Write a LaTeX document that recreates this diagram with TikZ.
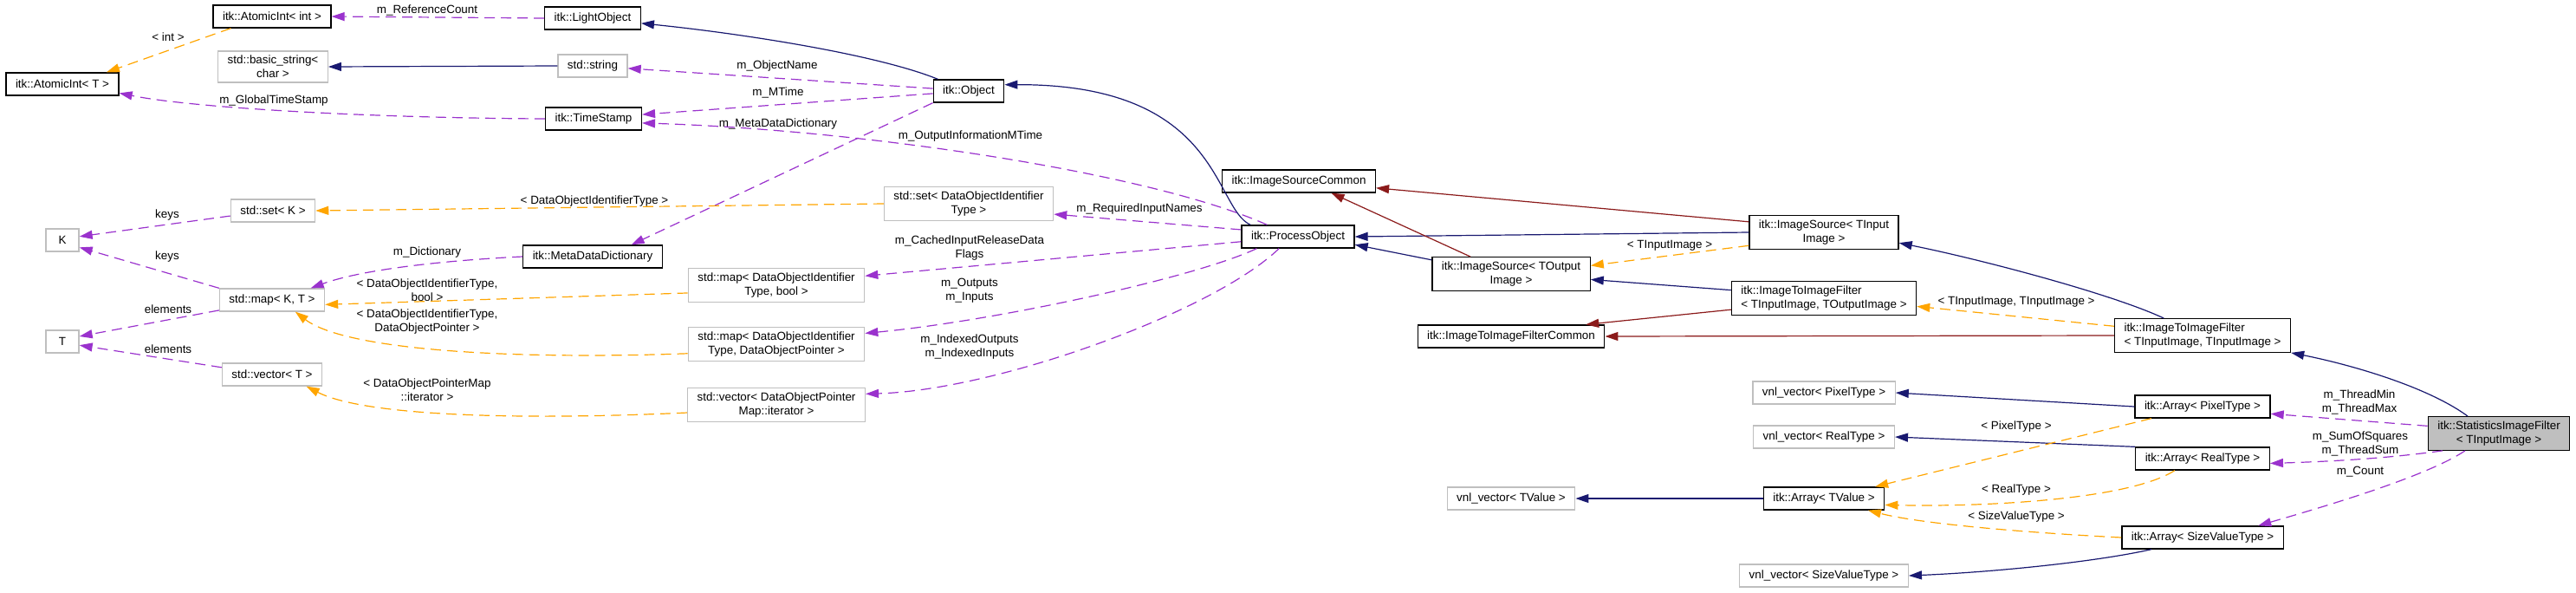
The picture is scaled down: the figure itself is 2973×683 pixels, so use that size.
\documentclass[tikz,border=0pt]{standalone}
\usepackage{fontspec}
\setmainfont{Liberation Sans}
\usetikzlibrary{arrows.meta}
\definecolor{inhblue}{HTML}{191970}
\definecolor{privred}{HTML}{8B1A1A}
\definecolor{usepurple}{HTML}{9A32CD}
\definecolor{tmplorange}{HTML}{FFA500}
\definecolor{nodegray}{HTML}{BFBFBF}
\begin{document}
\begin{tikzpicture}[x=1pt, y=-1pt,
    every node/.style={font=\fontsize{13.4}{16}\selectfont},
    box/.style={draw, line width=1.3pt, inner xsep=11pt, inner ysep=5pt, minimum height=26pt, align=center},
    cls/.style={box, draw=black},
    ext/.style={box, draw=nodegray},
    lbl/.style={inner sep=0pt, align=center},
    edge/.style={-{Triangle[length=15pt,width=10pt]}, line width=1.2pt},
    pub/.style={edge, draw=inhblue},
    priv/.style={edge, draw=privred},
    use/.style={edge, draw=usepurple, dash pattern=on 12pt off 7pt},
    tmpl/.style={edge, draw=tmplorange, dash pattern=on 12pt off 7pt}
]
\useasboundingbox (0,0) rectangle (2973,683);
% classes
\node[cls] (aint) at (314,19) {itk::AtomicInt< int >};
\node[cls] (lightobj) at (684,21) {itk::LightObject};
\node[cls] (aintT) at (72,97) {itk::AtomicInt< T >};
\node[ext] (bstr) at (315,77) {std::basic\_string<\\char >};
\node[ext] (str) at (684,76) {std::string};
\node[cls] (tstamp) at (685,137) {itk::TimeStamp};
\node[cls] (object) at (1118,105) {itk::Object};
\node[ext] (setK) at (315,243) {std::set< K >};
\node[ext, minimum width=38pt] (K) at (72,277) {K};
\node[cls] (mdd) at (684,296) {itk::MetaDataDictionary};
\node[ext] (mapKT) at (314,346) {std::map< K, T >};
\node[ext, minimum width=38pt] (T) at (72,394) {T};
\node[ext] (vecT) at (314,432) {std::vector< T >};
\node[ext] (setDOI) at (1118,235) {std::set< DataObjectIdentifier\\Type >};
\node[ext] (mapBool) at (896,329) {std::map< DataObjectIdentifier\\Type, bool >};
\node[ext] (mapPtr) at (896,397) {std::map< DataObjectIdentifier\\Type, DataObjectPointer >};
\node[ext] (vecIt) at (896,467) {std::vector< DataObjectPointer\\Map::iterator >};
\node[cls] (procobj) at (1498,273) {itk::ProcessObject};
\node[cls] (srcCommon) at (1499,209) {itk::ImageSourceCommon};
\node[cls] (srcIn) at (2105,268) {itk::ImageSource< TInput\\Image >};
\node[cls] (srcOut) at (1744,316) {itk::ImageSource< TOutput\\Image >};
\node[cls, align=left] (i2iOut) at (2105,344) {itk::ImageToImageFilter\\< TInputImage, TOutputImage >};
\node[cls] (i2iCommon) at (1744,388) {itk::ImageToImageFilterCommon};
\node[cls, align=left] (i2iIn) at (2542,387) {itk::ImageToImageFilter\\< TInputImage, TInputImage >};
\node[ext] (vnlPix) at (2105,453) {vnl\_vector< PixelType >};
\node[ext] (vnlReal) at (2105,504) {vnl\_vector< RealType >};
\node[ext] (vnlVal) at (1744,575) {vnl\_vector< TValue >};
\node[cls] (arrVal) at (2105,575) {itk::Array< TValue >};
\node[ext] (vnlSize) at (2105,664) {vnl\_vector< SizeValueType >};
\node[cls] (arrPix) at (2542,469) {itk::Array< PixelType >};
\node[cls] (arrReal) at (2542,529) {itk::Array< RealType >};
\node[cls] (arrSize) at (2542,620) {itk::Array< SizeValueType >};
\node[cls, fill=nodegray] (stats) at (2884,500) {itk::StatisticsImageFilter\\< TInputImage >};
% edge labels
\node[lbl] (lbRefCount) at (493,12) {m\_ReferenceCount};
\node[lbl] (lbInt) at (194,43) {< int >};
\node[lbl] (lbGlobal) at (316,116) {m\_GlobalTimeStamp};
\node[lbl] (lbName) at (897,76) {m\_ObjectName};
\node[lbl] (lbMTime) at (898,107) {m\_MTime};
\node[lbl] (lbMeta) at (898,143) {m\_MetaDataDictionary};
\node[lbl] (lbOutInfo) at (1120,157) {m\_OutputInformationMTime};
\node[lbl] (lbDOI) at (686,232) {< DataObjectIdentifierType >};
\node[lbl] (lbKeysA) at (193,248) {keys};
\node[lbl] (lbKeysB) at (193,296) {keys};
\node[lbl] (lbDict) at (493,291) {m\_Dictionary};
\node[lbl] (lbDOIBool) at (493,335) {< DataObjectIdentifierType,\\bool >};
\node[lbl] (lbElemA) at (194,357) {elements};
\node[lbl] (lbElemB) at (194,403) {elements};
\node[lbl] (lbDOIPtr) at (493,371) {< DataObjectIdentifierType,\\DataObjectPointer >};
\node[lbl] (lbIter) at (493,450) {< DataObjectPointerMap\\::iterator >};
\node[lbl] (lbRequired) at (1315,241) {m\_RequiredInputNames};
\node[lbl] (lbCached) at (1119,286) {m\_CachedInputReleaseData\\Flags};
\node[lbl] (lbOutputs) at (1119,335) {m\_Outputs\\m\_Inputs};
\node[lbl] (lbIndexed) at (1119,400) {m\_IndexedOutputs\\m\_IndexedInputs};
\node[lbl] (lbTIn) at (1927,283) {< TInputImage >};
\node[lbl] (lbTInTIn) at (2327,348) {< TInputImage, TInputImage >};
\node[lbl] (lbThread) at (2723,464) {m\_ThreadMin\\m\_ThreadMax};
\node[lbl] (lbPix) at (2327,492) {< PixelType >};
\node[lbl] (lbSum) at (2724,512) {m\_SumOfSquares\\m\_ThreadSum};
\node[lbl] (lbCount) at (2724,544) {m\_Count};
\node[lbl] (lbReal) at (2327,565) {< RealType >};
\node[lbl] (lbSize) at (2327,596) {< SizeValueType >};
% public inheritance
\draw[pub] (object.159) .. controls (1010,62) and (850,38) .. (lightobj.-6);
\draw[pub] (str.west) -- (bstr.east);
\draw[pub] (procobj.166) .. controls (1400,240) and (1410,97) .. (object.10);
\draw[pub] (srcIn.west) -- (procobj.east);
\draw[pub] (srcOut.170) -- (procobj.-8);
\draw[pub] (i2iOut.175) -- (srcOut.-4);
\draw[pub] (i2iIn.156) .. controls (2440,340) and (2290,300) .. (srcIn.-8);
\draw[pub] (stats.151) .. controls (2800,445) and (2710,420) .. (i2iIn.south east);
\draw[pub] (arrPix.west) -- (vnlPix.east);
\draw[pub] (arrReal.north west) -- (vnlReal.east);
\draw[pub] (arrVal.west) -- (vnlVal.east);
\draw[pub] (arrSize.193) .. controls (2420,648) and (2300,660) .. (vnlSize.east);
% private inheritance
\draw[priv] (srcIn.172) -- (srcCommon.-5);
\draw[priv] (srcOut.157) -- (srcCommon.-20);
\draw[priv] (i2iOut.187) -- (i2iCommon.9);
\draw[priv] (i2iIn.west) -- (i2iCommon.east);
% usage
\draw[use] (lightobj.west) -- (aint.east);
\draw[use] (object.176) -- (str.-4);
\draw[use] (object.184) -- (tstamp.5);
\draw[use] (object.south west) -- (mdd.17);
\draw[use] (procobj.159) .. controls (1330,200) and (1000,150) .. (tstamp.-5);
\draw[use] (tstamp.west) .. controls (420,136) and (220,124) .. (aintT.-9);
\draw[use] (setK.187) -- (K.12);
\draw[use] (mapKT.north west) -- (K.-23);
\draw[use] (mapKT.191) -- (T.17);
\draw[use] (vecT.172) -- (T.-12);
\draw[use] (mdd.west) .. controls (520,300) and (420,310) .. (mapKT.17);
\draw[use] (procobj.173) -- (setDOI.-7);
\draw[use] (procobj.185) -- (mapBool.6);
\draw[use] (procobj.196) .. controls (1380,320) and (1150,370) .. (mapPtr.7);
\draw[use] (procobj.212) .. controls (1400,360) and (1150,450) .. (vecIt.7);
\draw[use] (stats.174) -- (arrPix.-6);
\draw[use] (stats.197) .. controls (2760,528) and (2700,532) .. (arrReal.-4);
\draw[use] (stats.207) .. controls (2800,550) and (2680,585) .. (arrSize.12);
% template instances
\draw[tmpl] (aint.196) -- (aintT.15);
\draw[tmpl] (setDOI.west) -- (setK.east);
\draw[tmpl] (mapBool.185) -- (mapKT.-5);
\draw[tmpl] (mapPtr.186) .. controls (600,415) and (400,405) .. (mapKT.-27);
\draw[tmpl] (vecIt.185) .. controls (600,485) and (420,480) .. (vecT.-19);
\draw[tmpl] (srcIn.190) -- (srcOut.6);
\draw[tmpl] (i2iIn.174) -- (i2iOut.-5);
\draw[tmpl] (arrPix.193) -- (arrVal.13);
\draw[tmpl] (arrReal.203) .. controls (2460,575) and (2300,585) .. (arrVal.-6);
\draw[tmpl] (arrSize.west) .. controls (2350,615) and (2220,605) .. (arrVal.-15);
\end{tikzpicture}
\end{document}
